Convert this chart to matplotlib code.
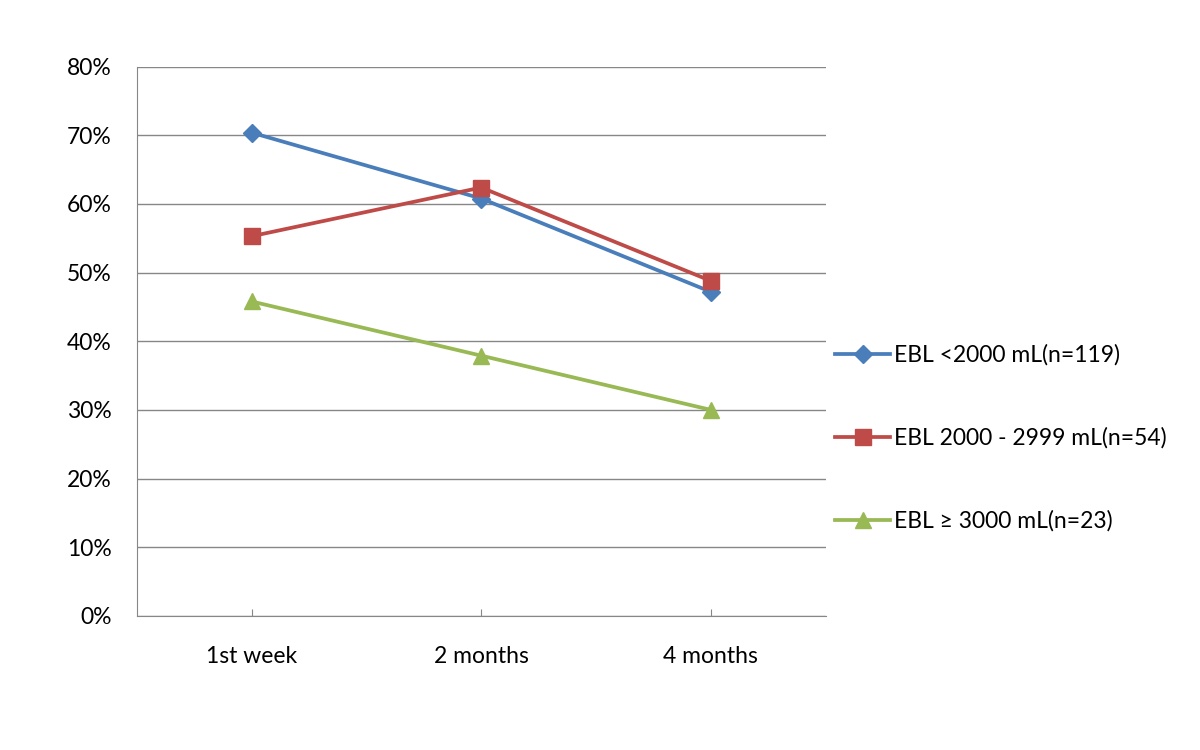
import numpy as np
import matplotlib.pyplot as plt
from matplotlib.ticker import PercentFormatter

plt.rcParams['font.family'] = ['Lato', 'DejaVu Sans']

categories = ['1st week', '2 months', '4 months']
ebl_low = [70.4, 60.8, 47.2]
ebl_mid = [55.3, 62.4, 48.8]
ebl_high = [45.8, 37.9, 30.0]
labels = ['EBL <2000 mL(n=119)', 'EBL 2000 - 2999 mL(n=54)', 'EBL \u2265 3000 mL(n=23)']

x = np.arange(len(categories))

fig = plt.figure(figsize=(12, 7.5), dpi=100)
ax = fig.add_axes([0.114, 0.179, 0.574, 0.732])

ax.plot(x, ebl_low, color='#4A7EBB', lw=2.7, marker='D', ms=9, label=labels[0], zorder=3)
ax.plot(x, ebl_mid, color='#BE4B48', lw=2.7, marker='s', ms=12, label=labels[1], zorder=3)
ax.plot(x, ebl_high, color='#98B954', lw=2.7, marker='^', ms=12, label=labels[2], zorder=3)

ax.set_xlim(-0.5, 2.5)
ax.set_ylim(0, 80)
ax.set_yticks(np.arange(0, 81, 10))
ax.yaxis.set_major_formatter(PercentFormatter(decimals=0))
ax.set_xticks(x)
ax.set_xticklabels(categories)
ax.grid(axis='y', color='#878787', lw=1)
ax.set_axisbelow(True)
for s in ['top', 'right']:
    ax.spines[s].set_visible(False)
for s in ['left', 'bottom']:
    ax.spines[s].set_color('#878787')
ax.tick_params(axis='y', length=0, labelsize=16.5, pad=18)
ax.tick_params(axis='x', direction='in', length=5, color='#878787', labelsize=16.5, pad=22)

fig.legend(loc='center left', bbox_to_anchor=(0.696, 0.416), frameon=False,
           fontsize=16.5, labelspacing=2.68, handlelength=2.4, handletextpad=0.15,
           borderpad=0, borderaxespad=0)

fig.savefig('out.png', dpi=100)
